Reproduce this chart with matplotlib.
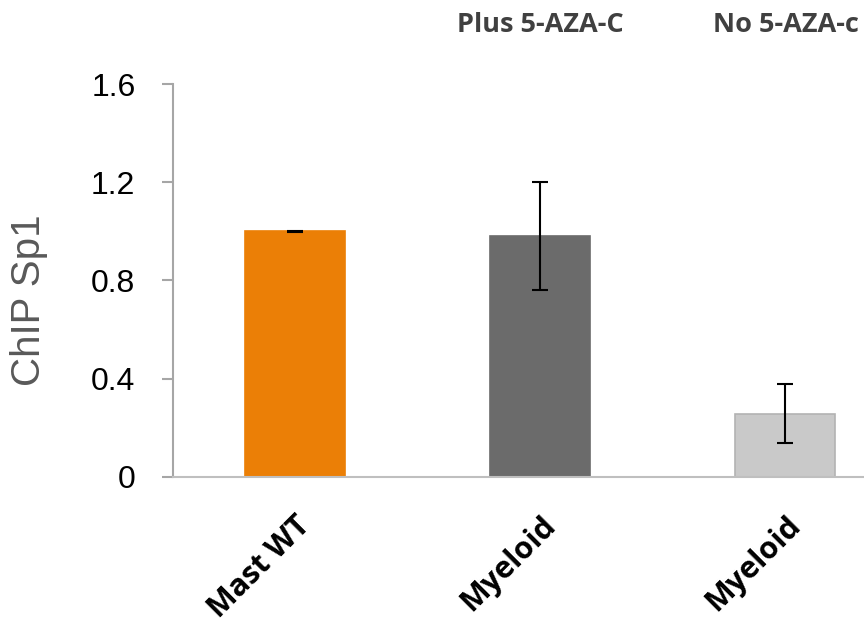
import numpy as np
import matplotlib
matplotlib.use("Agg")
import matplotlib.pyplot as plt
from matplotlib.transforms import blended_transform_factory

categories = ["Mast WT", "Myeloid", "Myeloid"]
values = [1.0, 0.98, 0.257]
errors = [0.003, 0.22, 0.12]
bar_colors = ["#EB7F06", "#6B6B6B", "#C9C9C9"]
edge_colors = ["#EB7F06", "#6B6B6B", "#B3B3B3"]
group_labels = ["Plus 5-AZA-C", "No 5-AZA-c"]
group_positions = [1, 2]
y_ticks = [0, 0.4, 0.8, 1.2, 1.6]
y_tick_labels = ["0", "0.4", "0.8", "1.2", "1.6"]


def main():
    fig = plt.figure(figsize=(8.64, 6.25), dpi=100)
    ax = fig.add_axes([0.2002, 0.2373, 0.8507, 0.6283])

    x = np.arange(len(categories))
    ax.bar(x, values, width=0.408, color=bar_colors, edgecolor=edge_colors,
           linewidth=1.2, zorder=2)
    ax.errorbar(x, values, yerr=errors, fmt="none", ecolor="black",
                elinewidth=1.5, capsize=6, capthick=1.5, zorder=3)

    ax.set_xlim(-0.5, 2.5)
    ax.set_ylim(0, 1.6)

    ax.set_yticks(y_ticks)
    ax.set_yticklabels(y_tick_labels, fontsize=23, family="Liberation Sans")
    ax.tick_params(axis="y", direction="out", length=8, width=1.5,
                   color="#A6A6A6", pad=19)

    ax.set_xticks(x)
    ax.set_xticklabels(categories, rotation=45, ha="right",
                       rotation_mode="anchor", fontsize=22,
                       fontweight="bold", family="Open Sans")
    ax.tick_params(axis="x", length=0, pad=24)

    ax.set_ylabel("ChIP Sp1", fontsize=29, family="Liberation Sans",
                  color="#595959")
    ax.yaxis.set_label_coords(-0.196, 0.45)
    ax.yaxis.label.set_verticalalignment("center")

    for side in ["top", "right"]:
        ax.spines[side].set_visible(False)
    ax.spines["left"].set_color("#A6A6A6")
    ax.spines["left"].set_linewidth(1.5)
    ax.spines["bottom"].set_color("#BFBFBF")
    ax.spines["bottom"].set_linewidth(1.5)

    trans = blended_transform_factory(ax.transData, fig.transFigure)
    for pos, label in zip(group_positions, group_labels):
        ax.text(pos, 1 - 25 / 625, label, transform=trans, ha="center",
                va="center", fontsize=19.5, fontweight="bold",
                family="Open Sans", color="#404040", clip_on=False)

    fig.savefig("out.png", dpi=100)


if __name__ == "__main__":
    main()
